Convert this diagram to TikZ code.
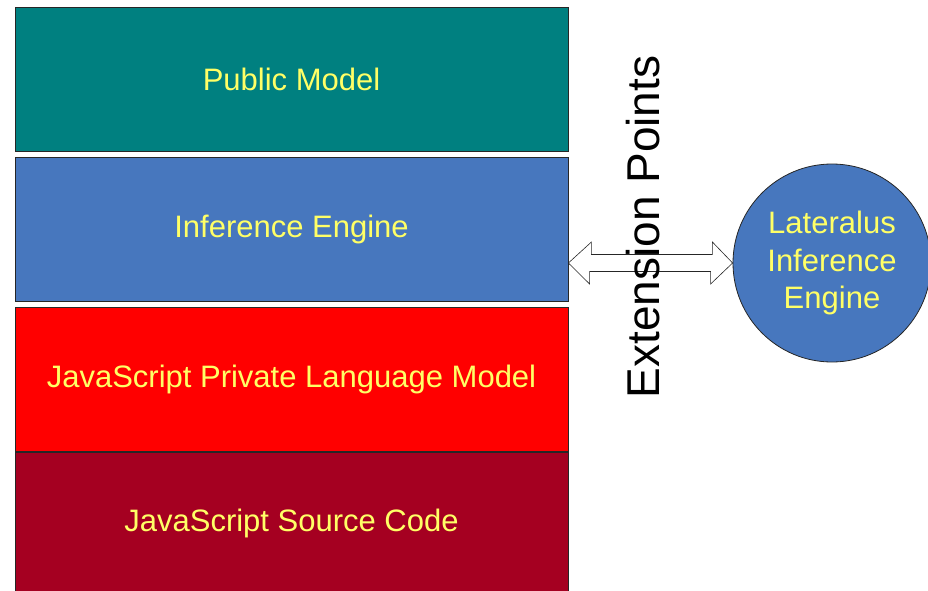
\documentclass[tikz,border=0pt]{standalone}
\usepackage{fontspec}
\setmainfont{Liberation Sans}
\usetikzlibrary{positioning}
\definecolor{pubteal}{RGB}{0,128,128}
\definecolor{engblue}{RGB}{71,119,190}
\definecolor{jsred}{RGB}{255,0,0}
\definecolor{srcred}{RGB}{165,0,33}
\definecolor{lblyellow}{RGB}{255,255,102}
\tikzset{
  layer/.style={draw=black!85, line width=0.8pt, minimum width=553pt,
    minimum height=143.5pt, inner sep=0pt, text=lblyellow,
    font=\fontsize{31}{37.5}\selectfont},
  extarrow/.style={draw=black!85, fill=white, line width=0.6pt, line join=miter}
}
\begin{document}
\begin{tikzpicture}[x=1pt,y=-1pt]
      \useasboundingbox (0,0) rectangle (928,591);
      \clip (0,0) rectangle (928,591);
      \node[layer, fill=pubteal] (pub) at (291.5,79.5) {Public Model};
      \node[layer, fill=engblue, below=5.5pt of pub] (inf) {Inference Engine};
      \node[layer, fill=jsred, below=6pt of inf] (jslm) {JavaScript Private Language Model};
      \node[layer, fill=srcred, below=0pt of jslm] (src) {JavaScript Source Code};
      \node[circle, draw=black!85, line width=0.8pt, fill=engblue, minimum size=198pt,
        inner sep=0pt, align=center, text=lblyellow,
        font=\fontsize{31}{37.5}\selectfont] (lat) at (832,263)
        {Lateralus\\Inference\\Engine};
      \begin{scope}[extarrow]
        \draw (inf.east |- lat.west) -- ++(23,-21) -- ++(0,12.5) -- ++(121,0)
          -- ++(0,-12.5) -- (lat.west) -- ++(-22,21) -- ++(0,-12.5) -- ++(-121,0)
          -- ++(0,12.5) -- cycle;
      \end{scope}
      \node[rotate=90, inner sep=0pt, font=\fontsize{46}{52}\selectfont] (ext)
        at (643,227) {Extension Points};
    \end{tikzpicture}
\end{document}
